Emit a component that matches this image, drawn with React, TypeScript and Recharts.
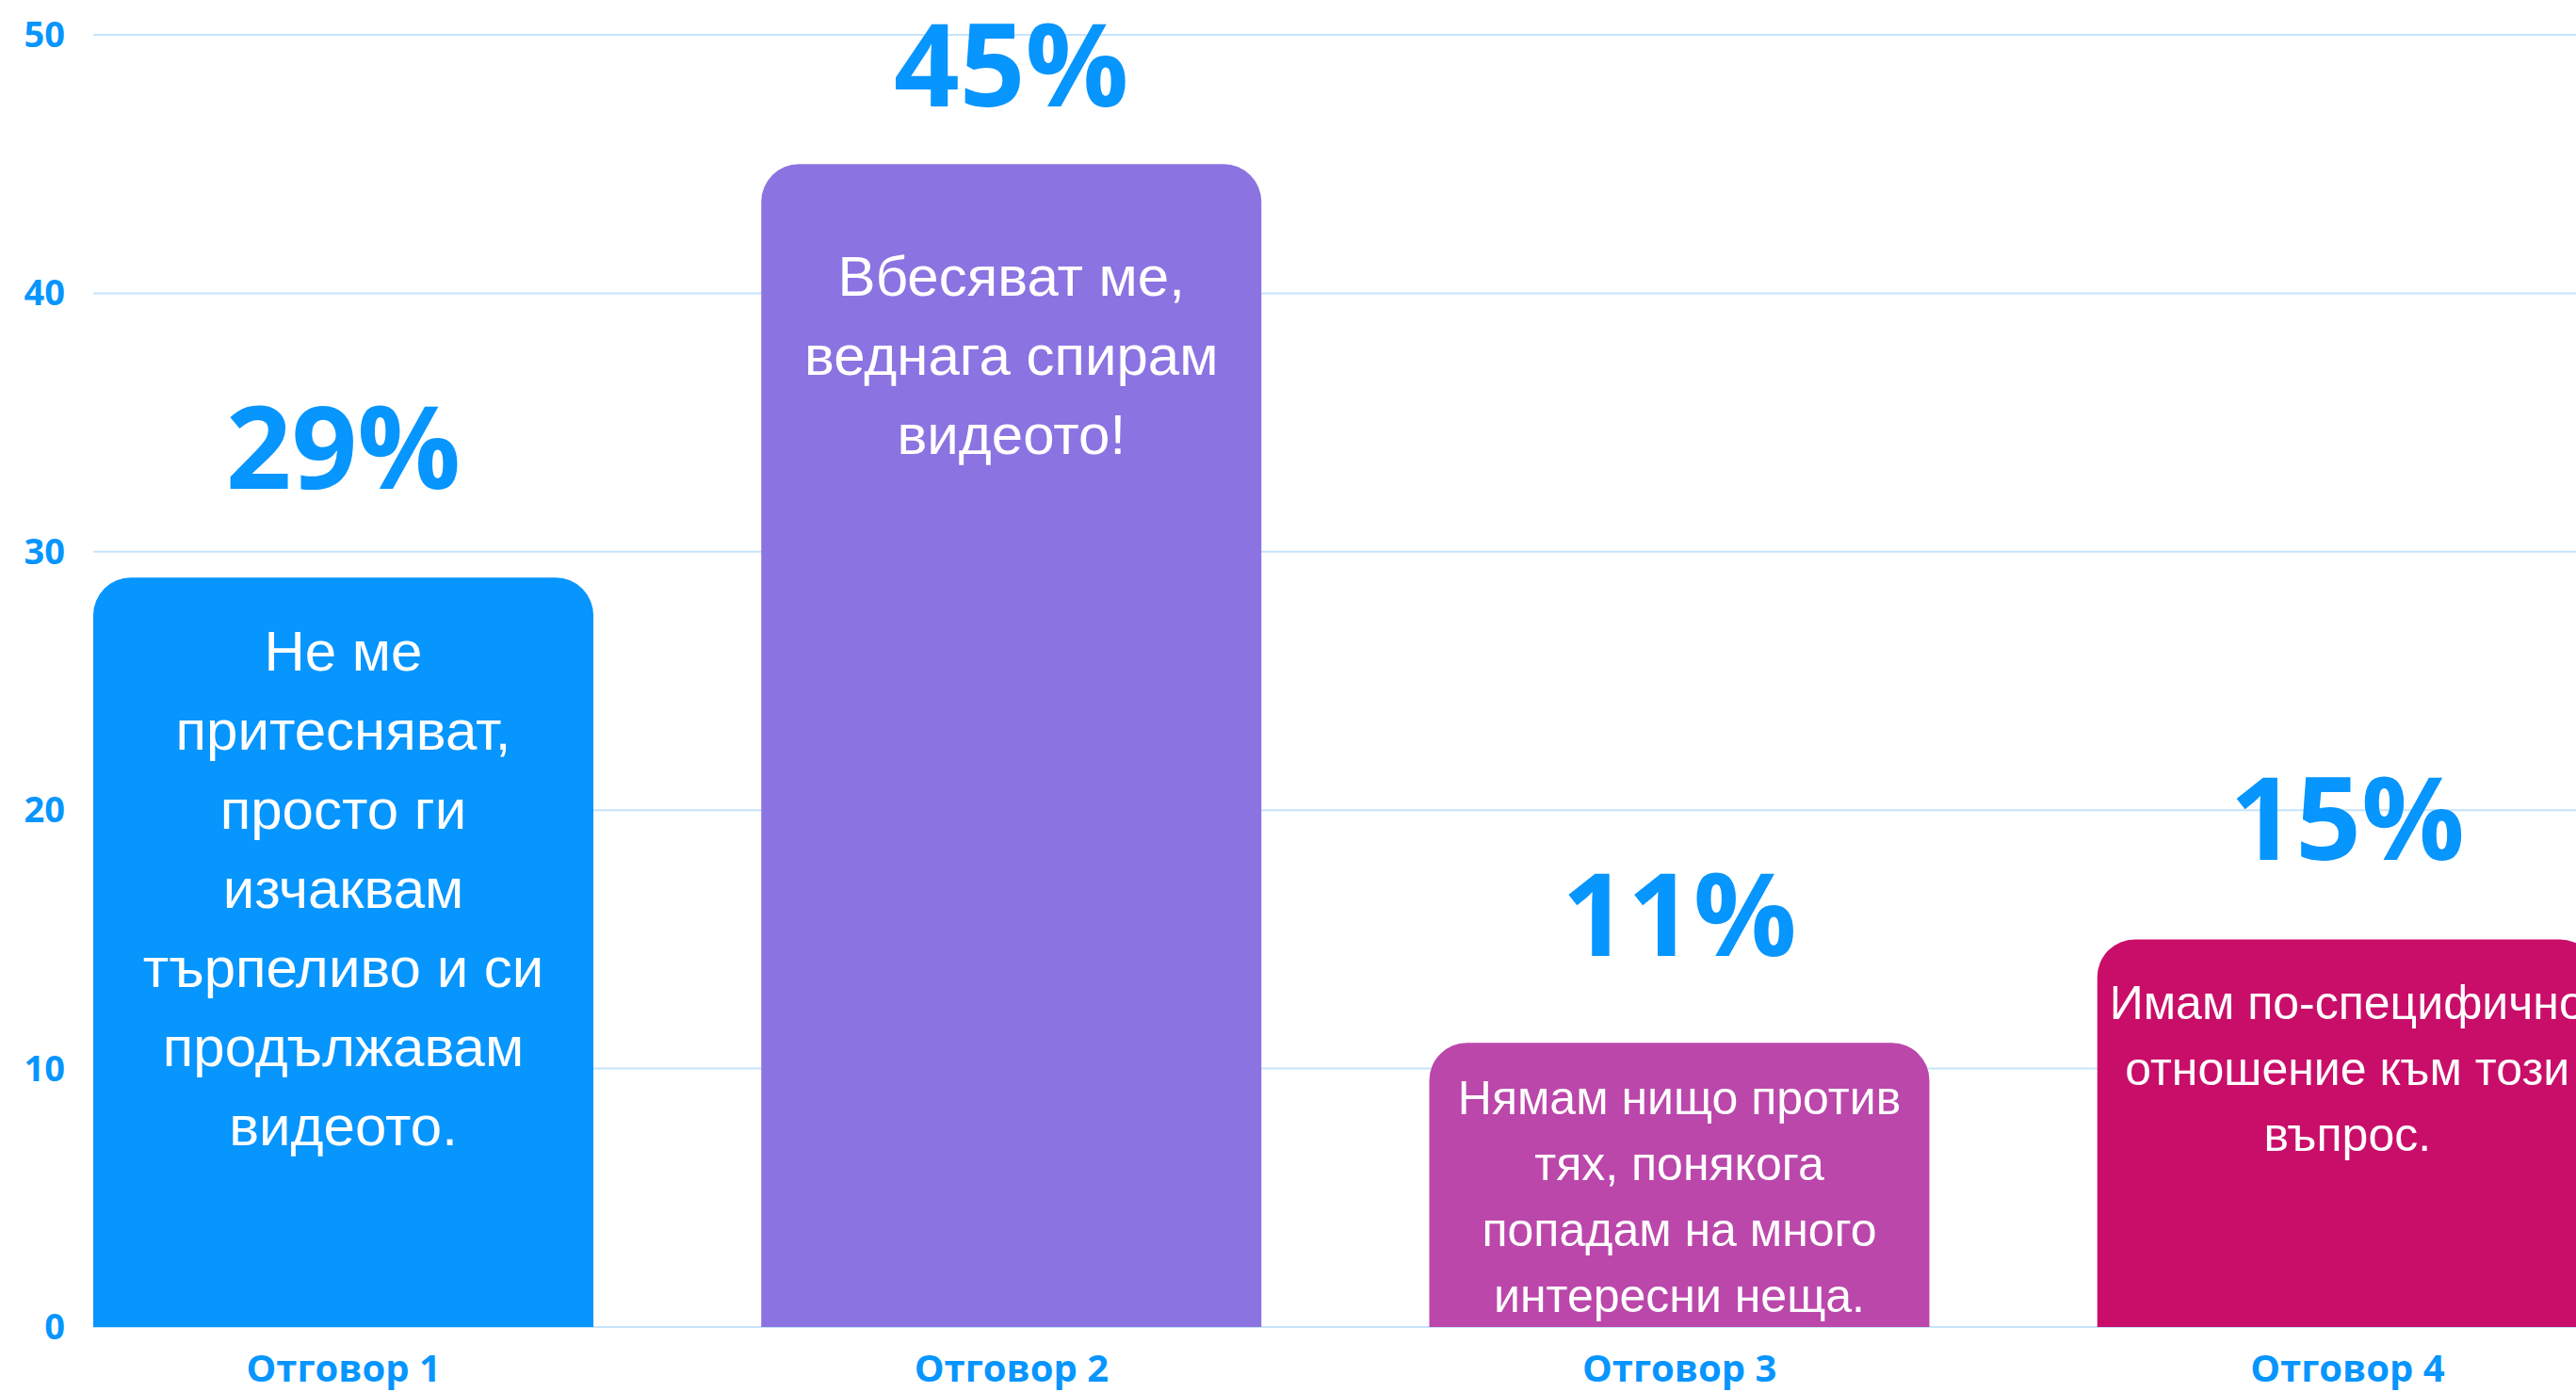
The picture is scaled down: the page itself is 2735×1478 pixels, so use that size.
import { BarChart, Bar, XAxis, YAxis, CartesianGrid, Cell, LabelList, Rectangle } from "recharts";

const categories = ["Отговор 1", "Отговор 2", "Отговор 3", "Отговор 4"];
const values = [29, 45, 11, 15];
const answers = [
  ["Не ме", "притесняват,", "просто ги", "изчаквам", "търпеливо и си", "продължавам", "видеото."],
  ["Вбесяват ме,", "веднага спирам", "видеото!"],
  ["Нямам нищо против", "тях, понякога", "попадам на много", "интересни неща."],
  ["Имам по-специфично", "отношение към този", "въпрос."],
];
const yTicks = [0, 10, 20, 30, 40, 50];

const colors = ["#0795fe", "#8b73e1", "#bb47ab", "#c90e6a"];
const blue = "#0795fe";

// text placement inside / above each bar (the original was laid out by hand)
const textStyle = [
  { size: 60, lead: 84, top: 99, gap: 94 },
  { size: 60, lead: 84, top: 140, gap: 61 },
  { size: 50, lead: 70, top: 76, gap: 92 },
  { size: 50, lead: 70, top: 85, gap: 84 },
];

const data = categories.map((name, i) => ({ name, value: values[i] }));

function AnswerBar(props: any) {
  const { x, y, width, height, index } = props;
  const st = textStyle[index];
  const cx = x + width / 2;
  return (
    <g>
      <Rectangle x={x} y={y} width={width} height={height} fill={colors[index]} radius={[40, 40, 0, 0]} />
      <text
        x={cx}
        y={y + st.top}
        textAnchor="middle"
        fill="#fff"
        fontFamily="'Liberation Sans', Arial, sans-serif"
        fontSize={st.size}
      >
        {answers[index].map((line, i) => (
          <tspan key={i} x={cx} dy={i === 0 ? 0 : st.lead}>
            {line}
          </tspan>
        ))}
      </text>
    </g>
  );
}

function PctLabel(props: any) {
  const vb = props.viewBox && props.viewBox.x != null ? props.viewBox : props;
  const { x, y, width } = vb;
  const i = props.index ?? values.indexOf(Number(props.value));
  return (
    <text
      x={x + width / 2}
      y={y - textStyle[i].gap}
      textAnchor="middle"
      fill={blue}
      fontFamily="'Open Sans', sans-serif"
      fontWeight={700}
      fontSize={122}
    >
      {props.value}%
    </text>
  );
}

function XTick({ x, y, payload }: any) {
  return (
    <text x={x} y={y + 58} textAnchor="middle" fill={blue} fontFamily="'Open Sans', sans-serif" fontWeight={700} fontSize={40}>
      {payload.value}
    </text>
  );
}

function YTick({ x, y, payload }: any) {
  return (
    <text x={x} y={y + 13} textAnchor="end" fill={blue} fontFamily="'Open Sans', sans-serif" fontWeight={700} fontSize={38}>
      {payload.value}
    </text>
  );
}

export default function App() {
  return (
    <div style={{ position: "fixed", left: 0, top: 0, width: 2735, height: 1478, overflow: "hidden", background: "#fff" }}>
      <BarChart width={2735} height={1478} data={data} margin={{ top: 37, right: 0, bottom: 0, left: 0 }}>
        <CartesianGrid vertical={false} stroke="#c6e4fb" strokeWidth={2} />
        <XAxis
          dataKey="name"
          height={69}
          axisLine={false}
          tickLine={false}
          tickSize={0}
          tickMargin={0}
          padding={{ left: -89, right: -112 }}
          tick={<XTick />}
        />
        <YAxis
          width={99}
          domain={[0, 50]}
          ticks={yTicks}
          axisLine={false}
          tickLine={false}
          tickSize={0}
          tickMargin={30}
          tick={<YTick />}
        />
        <Bar dataKey="value" barSize={531} isAnimationActive={false} shape={<AnswerBar />}>
          {data.map((d, i) => (
            <Cell key={d.name} fill={colors[i]} />
          ))}
          <LabelList dataKey="value" content={<PctLabel />} />
        </Bar>
      </BarChart>
    </div>
  );
}
